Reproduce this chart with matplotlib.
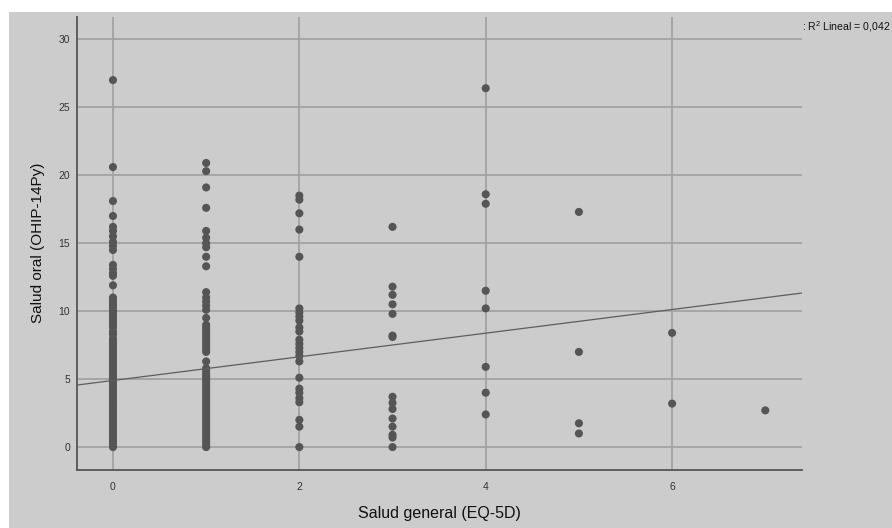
import matplotlib
matplotlib.use("Agg")
import matplotlib.pyplot as plt
from matplotlib.patches import Rectangle
import numpy as np

plt.rcParams['font.family'] = ['Liberation Sans', 'DejaVu Sans']
plt.rcParams['mathtext.fontset'] = 'custom'
plt.rcParams['mathtext.rm'] = 'Liberation Sans'
plt.rcParams['mathtext.it'] = 'Liberation Sans:italic'

# OHIP-14Py scores grouped by EQ-5D general health score
ohip_eq0 = [27.0, 20.6, 18.1, 17.0, 16.2, 15.9, 15.5, 15.1, 14.8, 14.5,
            13.4, 13.1, 12.8, 12.6, 11.9, 11.0, 10.8, 10.6, 10.4, 10.2,
            10.0, 9.8, 9.6, 9.4, 9.2, 9.0, 8.8, 8.5, 8.3, 8.0, 7.8, 7.6,
            7.4, 7.2, 7.0, 6.8, 6.6, 6.4, 6.2, 6.0, 5.8, 5.6, 5.4, 5.2,
            5.0, 4.8, 4.6, 4.4, 4.2, 4.0, 3.8, 3.6, 3.4, 3.2, 3.0, 2.8,
            2.6, 2.4, 2.2, 2.0, 1.8, 1.6, 1.4, 1.2, 1.0, 0.8, 0.6, 0.4,
            0.2, 0.0]
ohip_eq1 = [20.9, 20.3, 19.1, 17.6, 15.9, 15.4, 15.0, 14.7, 14.0, 13.3,
            11.4, 11.0, 10.7, 10.4, 10.1, 9.5, 9.0, 8.8, 8.6, 8.4, 8.2,
            8.0, 7.8, 7.6, 7.4, 7.2, 7.0, 6.3, 5.8, 5.6, 5.4, 5.2, 5.0,
            4.8, 4.6, 4.4, 4.2, 4.0, 3.8, 3.6, 3.4, 3.2, 3.0, 2.8, 2.6,
            2.4, 2.2, 2.0, 1.8, 1.6, 1.4, 1.2, 1.0, 0.8, 0.6, 0.4, 0.2,
            0.0]
ohip_eq2 = [18.5, 18.2, 17.2, 16.0, 14.0, 10.2, 9.9, 9.6, 9.3, 8.8, 8.5,
            7.9, 7.6, 7.3, 7.0, 6.7, 6.3, 5.1, 4.3, 4.0, 3.6, 3.3, 2.0,
            1.5, 0.0]
ohip_eq3 = [16.2, 11.8, 11.2, 10.5, 9.8, 8.2, 8.1, 3.7, 3.25, 2.8, 2.1,
            1.5, 0.9, 0.7, 0.0]
ohip_eq4 = [26.4, 18.6, 17.9, 11.5, 10.2, 5.9, 4.0, 2.4]
ohip_eq5 = [17.3, 7.0, 1.75, 1.0]
ohip_eq6 = [8.4, 3.2]
ohip_eq7 = [2.7]

groups = [ohip_eq0, ohip_eq1, ohip_eq2, ohip_eq3,
          ohip_eq4, ohip_eq5, ohip_eq6, ohip_eq7]

# Linear fit reported by the analysis
fit_intercept = 4.9
fit_slope = 0.87
r2_label = ": R$^{2}$ Lineal = 0,042"

x_ticks = [0, 2, 4, 6]
y_ticks = [0, 5, 10, 15, 20, 25, 30]

bg = '#cccccc'
grid_col = '#a3a3a3'
dot_col = '#555555'

fig = plt.figure(figsize=(8.92, 5.28), dpi=100, facecolor='white')
fig.patches.append(Rectangle((9 / 892, 0), 1, 1 - 12 / 528,
                             transform=fig.transFigure, facecolor=bg,
                             edgecolor='none', zorder=-10))

ax = fig.add_axes([77 / 892, 1 - 469.5 / 528, 725 / 892, 452.5 / 528])
ax.set_zorder(1)
ax.set_facecolor(bg)

xs = np.concatenate([[i] * len(g) for i, g in enumerate(groups)])
ys = np.concatenate(groups)
ax.scatter(xs, ys, s=34, color=dot_col, edgecolors='none', zorder=3)

ax.set_xlim(-0.386, 7.394)
ax.set_ylim(-1.65, 31.64)

xl = np.array(ax.get_xlim())
ax.plot(xl, fit_intercept + fit_slope * xl, color='#5e5e5e', lw=0.9,
        zorder=4)

ax.set_xticks(x_ticks)
ax.set_yticks(y_ticks)
ax.grid(True, color=grid_col, lw=1.3, zorder=1)
ax.set_axisbelow(True)
ax.tick_params(length=0, labelsize=7.5, labelcolor='#333333')
ax.tick_params(axis='x', pad=9)
ax.tick_params(axis='y', pad=5)

for s in ['top', 'right']:
    ax.spines[s].set_visible(False)
for s in ['left', 'bottom']:
    ax.spines[s].set_color('#555555')
    ax.spines[s].set_linewidth(1.3)

ax.set_xlabel('Salud general (EQ-5D)', fontsize=11.5, color='#111111')
ax.set_ylabel('Salud oral (OHIP-14Py)', fontsize=11, color='#111111')
ax.xaxis.set_label_coords(0.5, -0.080)
ax.yaxis.set_label_coords(-0.044, 0.5)

fig.text(802 / 892, 1 - 27 / 528, r2_label, fontsize=7.6, color='#111111',
         ha='left', va='center', zorder=2)

fig.savefig('out.png', dpi=100, facecolor='white')
